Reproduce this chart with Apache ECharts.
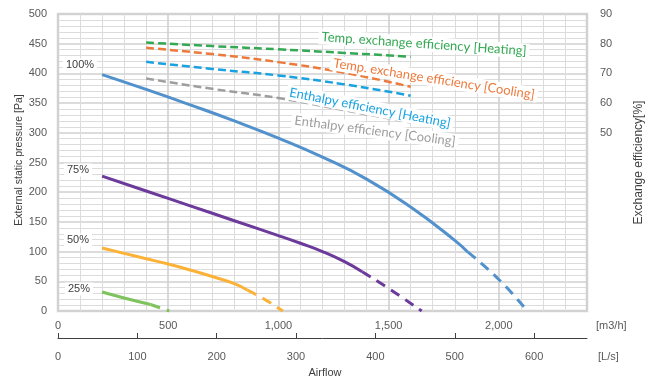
<!DOCTYPE html>
<html>
<head>
<meta charset="utf-8">
<script src="https://cdn.jsdelivr.net/npm/echarts@6/dist/echarts.min.js"></script>
<style>html,body{margin:0;padding:0;background:#fff;}#c{width:649px;height:381px;}</style>
</head>
<body>
<div id="c"></div>
<script>
// Fan curves: [airflow m3/h, external static pressure Pa]
const fan100Solid = [[200,398],[400,373],[600,347],[800,320],[1000,291],[1200,259],[1400,222],[1600,175],[1800,119],[1860,99]];
const fan100Dash  = [[1860,99],[2000,53],[2130,0]];
const fan75Solid  = [[200,227],[400,202],[600,177],[800,152],[1000,127],[1100,114],[1200,100],[1300,83],[1380,66]];
const fan75Dash   = [[1380,66],[1500,38],[1650,0]];
const fan50Solid  = [[200,106],[300,97],[400,88],[500,79],[600,69],[700,58],[800,46],[860,35]];
const fan50Dash   = [[860,35],[940,19],[1020,0]];
const fan25Solid  = [[200,32],[300,22],[420,11]];
const fan25Dash   = [[420,11],[505,0]];

// Efficiency curves [%] vs airflow m3/h
const effFlow     = [400,700,1000,1300,1600];
const tempHeating = [80.4,79.2,78.1,76.9,75.6];
const tempCooling = [78.6,76.5,73.8,70.2,65.5];
const enthHeating = [73.9,71.5,69.3,66.3,62.5];
const enthCooling = [68.3,64.8,61.7,57.6,53.5];

// Tick labels
const m3hLabels = [0,500,1000,1500,2000];
const lsTicks   = [0,100,200,300,400,500,600];
const effLabelsShown = [50,60,70,80,90];

const pair = (xs, ys) => xs.map((x,i)=>[x, ys[i]]);
const fmtThousands = v => String(v).replace(/\B(?=(\d{3})+(?!\d))/g, ',');

const chart = echarts.init(document.getElementById('c'), null, {renderer:'canvas'});
const axisTxt = {color:'#595959', fontFamily:'Liberation Sans, Arial', fontSize:11};

function perf(data, color, dashed){
  return {type:'line', data, xAxisIndex:0, yAxisIndex:0, smooth:0.5, symbol:'none', silent:true,
    lineStyle:{color, width:3, type: dashed ? [10,7] : 'solid', cap:'butt'}, z:3};
}
function eff(ys, color){
  return {type:'line', data: pair(effFlow, ys), xAxisIndex:0, yAxisIndex:1, smooth:0.5, symbol:'none', silent:true,
    lineStyle:{color, width:2.5, type:[8,4], cap:'butt'}, z:3};
}
function lbl(text, x, y, color, rotDeg, font){
  return {type:'text', x, y, rotation: -rotDeg*Math.PI/180, z:10,
    style:{text, fill:color, font, align:'center', verticalAlign:'middle', backgroundColor:'#fff', padding:[1,3]}};
}

chart.setOption({
  animation:false,
  grid:{left:58, right:62, top:14, bottom:70, outerBoundsMode:'none', containLabel:false,
        show:true, borderColor:'#d6d6d6', borderWidth:2.5, backgroundColor:'transparent'},
  xAxis:[
    {type:'value', min:0, max:2400, interval:500, position:'bottom',
     axisLine:{show:false, onZero:false}, axisTick:{show:false}, axisLabel:{show:false},
     splitLine:{show:true, lineStyle:{color:'#d0d0d0', width:1.6}},
     minorTick:{show:false, splitNumber:5},
     minorSplitLine:{show:true, lineStyle:{color:'#dcdcdc', width:1}}},
    {type:'value', min:0, max:2400, position:'bottom', offset:27,
     axisLine:{show:true, onZero:false, lineStyle:{color:'#404040', width:1}}, axisTick:{show:false},
     axisLabel:Object.assign({inside:true, margin:7, customValues:m3hLabels, formatter:v=>fmtThousands(v)}, axisTxt),
     splitLine:{show:false}},
    {type:'value', min:0, max:2400/3.6, position:'bottom', offset:27,
     axisLine:{show:false, onZero:false}, axisTick:{show:true, inside:true, length:5, customValues:lsTicks, lineStyle:{color:'#404040'}},
     axisLabel:Object.assign({margin:13, customValues:lsTicks}, axisTxt),
     splitLine:{show:false}}
  ],
  yAxis:[
    {type:'value', min:0, max:500, interval:50, position:'left',
     axisLine:{show:false, onZero:false}, axisTick:{show:false},
     axisLabel:Object.assign({margin:11}, axisTxt),
     splitLine:{show:true, lineStyle:{color:'#d0d0d0', width:1.6}},
     minorTick:{show:false, splitNumber:5},
     minorSplitLine:{show:true, lineStyle:{color:'#dcdcdc', width:1}}},
    {type:'value', min:-10, max:90, interval:10, position:'right',
     axisLine:{show:false, onZero:false}, axisTick:{show:false}, splitLine:{show:false},
     axisLabel:Object.assign({margin:13, customValues:effLabelsShown}, axisTxt),
     name:'Exchange efficiency[%]', nameLocation:'middle', nameGap:46, nameRotate:90,
     nameTextStyle:{color:'#404040', fontFamily:'Liberation Sans, Arial', fontSize:12}}
  ],
  series:[
    perf(fan100Solid,'#5291cc',false), perf(fan100Dash,'#5291cc',true),
    perf(fan75Solid,'#6b3a9b',false),  perf(fan75Dash,'#6b3a9b',true),
    perf(fan50Solid,'#fbb237',false),  perf(fan50Dash,'#fbb237',true),
    perf(fan25Solid,'#7fc35c',false),  perf(fan25Dash,'#7fc35c',true),
    eff(tempHeating,'#34a853'), eff(tempCooling,'#ec7a3c'),
    eff(enthHeating,'#1aa2e0'), eff(enthCooling,'#9e9e9e')
  ],
  graphic:[
    {type:'text', x:19, y:160, rotation:Math.PI/2, z:10,
     style:{text:'External static pressure [Pa]', fill:'#404040', font:'10.5px Liberation Sans, Arial', align:'center', verticalAlign:'middle'}},
    lbl('100%', 80, 65, '#404040', 0, '11px Liberation Sans, Arial'),
    lbl('75%', 78, 170, '#404040', 0, '11px Liberation Sans, Arial'),
    lbl('50%', 78, 240, '#404040', 0, '11px Liberation Sans, Arial'),
    lbl('25%', 79, 289, '#404040', 0, '11px Liberation Sans, Arial'),
    lbl('Temp. exchange efficiency [Heating]', 424, 44, '#34a853', 4, '13px Lato'),
    lbl('Temp. exchange efficiency [Cooling]', 434, 79, '#ec7a3c', 9, '13px Lato'),
    lbl('Enthalpy efficiency [Heating]', 370, 108, '#1aa2e0', 11, '13px Lato'),
    lbl('Enthalpy efficiency [Cooling]', 375, 131, '#9e9e9e', 7.5, '13px Lato'),
    {type:'text', x:596, y:326, style:{text:'[m3/h]', fill:'#595959', font:'11px Liberation Sans, Arial', align:'left', verticalAlign:'middle'}},
    {type:'text', x:598, y:357, style:{text:'[L/s]', fill:'#595959', font:'11px Liberation Sans, Arial', align:'left', verticalAlign:'middle'}},
    {type:'text', x:325, y:373, style:{text:'Airflow', fill:'#404040', font:'11px Liberation Sans, Arial', align:'center', verticalAlign:'middle'}}
  ]
});
</script>
</body>
</html>
